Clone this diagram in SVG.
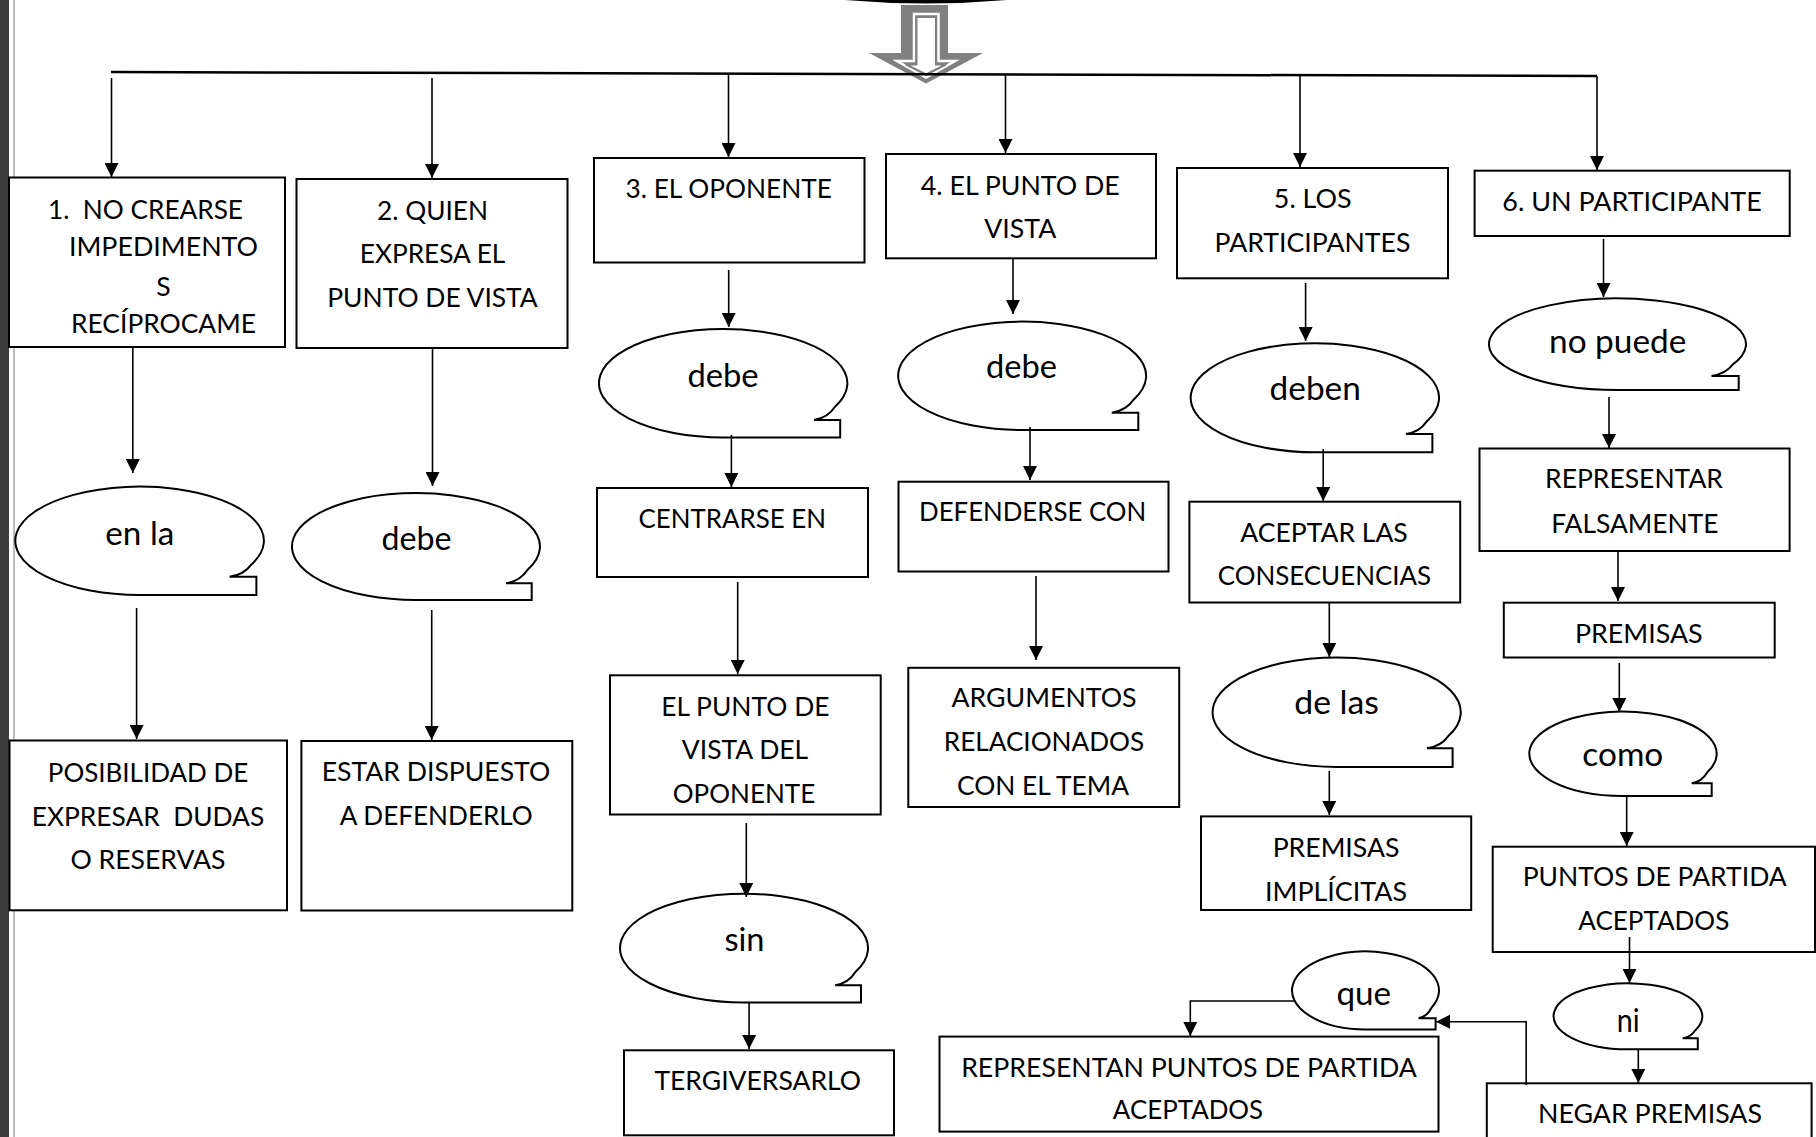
<svg xmlns="http://www.w3.org/2000/svg" width="1816" height="1137" viewBox="0 0 1816 1137">
  <defs>
    <marker id="ah" viewBox="0 0 14 14" refX="14" refY="7" markerWidth="14" markerHeight="14" orient="auto" markerUnits="userSpaceOnUse">
      <path d="M0,0 L14,7 L0,14 Z" fill="#000"/>
    </marker>
    <style>
      .box { fill: #fff; stroke: #000; stroke-width: 2; }
      .bub { fill: #fff; stroke: #000; stroke-width: 2; stroke-linejoin: miter; }
      .t { font-family: Lato, "Liberation Sans", sans-serif; font-size: 26.5px; text-anchor: middle; fill: #000; white-space: pre; }
      .w { font-size: 32.5px; }
      .c { fill: none; stroke: #000; stroke-width: 1.6; marker-end: url(#ah); }
    </style>
  </defs>

  <rect width="1816" height="1137" fill="#fff"/>

  <!-- page edge -->
  <rect x="0" y="0" width="9" height="1137" fill="#3c3c3c"/>
  <line x1="14" y1="0" x2="14" y2="1137" stroke="#a6a6a6" stroke-width="1.5"/>

  <!-- bottom of the title shape and the hollow arrow below it -->
  <path d="M845,0 Q926,7 1007,0 Z" fill="#000"/>
  <g id="title-arrow">
    <polygon points="901,5 948,5 948,53 983,53 926,83.5 869,53 901,53" fill="#808080"/>
    <polygon points="914,14 938.5,14 938.5,61 955,61 926,77.5 897,61 914,61" fill="none" stroke="#fff" stroke-width="2.5"/>
    <polygon points="916.5,17 936,17 936,64.5 946,64.5 926,74.5 906,64.5 916.5,64.5" fill="#fff" stroke="#808080" stroke-width="2"/>
  </g>

  <!-- boxes -->
  <g id="n1">
    <rect class="box" x="9" y="177.5" width="276" height="169.5"/>
    <text class="t" x="48" y="219" textLength="195" lengthAdjust="spacingAndGlyphs" style="text-anchor:start">1.  NO CREARSE</text>
    <text class="t" x="163.5" y="256" textLength="189" lengthAdjust="spacingAndGlyphs">IMPEDIMENTO</text>
    <text class="t" x="163.5" y="296">S</text>
    <text class="t" x="163.5" y="333" textLength="185" lengthAdjust="spacingAndGlyphs">RECÍPROCAME</text>
  </g>
  <g id="n2">
    <rect class="box" x="296.5" y="179" width="271" height="169"/>
    <text class="t" x="432.5" y="220" textLength="111" lengthAdjust="spacingAndGlyphs">2. QUIEN</text>
    <text class="t" x="432.5" y="263" textLength="145.5" lengthAdjust="spacingAndGlyphs">EXPRESA EL</text>
    <text class="t" x="432.5" y="307" textLength="210.5" lengthAdjust="spacingAndGlyphs">PUNTO DE VISTA</text>
  </g>
  <g id="n3">
    <rect class="box" x="594" y="158" width="270.5" height="104.5"/>
    <text class="t" x="728.7" y="198" textLength="206.4" lengthAdjust="spacingAndGlyphs">3. EL OPONENTE</text>
  </g>
  <g id="n4">
    <rect class="box" x="886" y="154" width="270" height="104.3"/>
    <text class="t" x="1020.3" y="195" textLength="199" lengthAdjust="spacingAndGlyphs">4. EL PUNTO DE</text>
    <text class="t" x="1020.3" y="238.3" textLength="72" lengthAdjust="spacingAndGlyphs">VISTA</text>
  </g>
  <g id="n5">
    <rect class="box" x="1177" y="168" width="271" height="110.3"/>
    <text class="t" x="1312.7" y="208.3" textLength="77.8" lengthAdjust="spacingAndGlyphs">5. LOS</text>
    <text class="t" x="1312.5" y="251.7" textLength="195.8" lengthAdjust="spacingAndGlyphs">PARTICIPANTES</text>
  </g>
  <g id="n6">
    <rect class="box" x="1474.6" y="170.7" width="315.1" height="65.3"/>
    <text class="t" x="1632" y="211" textLength="259.4" lengthAdjust="spacingAndGlyphs">6. UN PARTICIPANTE</text>
  </g>

  <g id="centrarse">
    <rect class="box" x="597" y="488" width="271" height="89"/>
    <text class="t" x="732.3" y="528.3" textLength="187.5" lengthAdjust="spacingAndGlyphs">CENTRARSE EN</text>
  </g>
  <g id="defenderse">
    <rect class="box" x="898.5" y="481.7" width="270" height="89.8"/>
    <text class="t" x="1032.6" y="520.7" textLength="227" lengthAdjust="spacingAndGlyphs">DEFENDERSE CON</text>
  </g>
  <g id="aceptar">
    <rect class="box" x="1189.4" y="501.7" width="270.8" height="100.8"/>
    <text class="t" x="1324" y="542.3" textLength="167.4" lengthAdjust="spacingAndGlyphs">ACEPTAR LAS</text>
    <text class="t" x="1324.4" y="585" textLength="213.4" lengthAdjust="spacingAndGlyphs">CONSECUENCIAS</text>
  </g>
  <g id="representar">
    <rect class="box" x="1479.5" y="448.5" width="310.1" height="102.5"/>
    <text class="t" x="1634" y="488.3" textLength="177.8" lengthAdjust="spacingAndGlyphs">REPRESENTAR</text>
    <text class="t" x="1634.9" y="532.7" textLength="167.4" lengthAdjust="spacingAndGlyphs">FALSAMENTE</text>
  </g>
  <g id="premisas">
    <rect class="box" x="1503.8" y="602.7" width="270.9" height="54.8"/>
    <text class="t" x="1638.8" y="642.7" textLength="127.7" lengthAdjust="spacingAndGlyphs">PREMISAS</text>
  </g>
  <g id="posibilidad">
    <rect class="box" x="9.5" y="740.5" width="277.5" height="169.8"/>
    <text class="t" x="148" y="781.5" textLength="200.4" lengthAdjust="spacingAndGlyphs">POSIBILIDAD DE</text>
    <text class="t" x="148" y="826" textLength="232.4" lengthAdjust="spacingAndGlyphs">EXPRESAR  DUDAS</text>
    <text class="t" x="148" y="868.8" textLength="155" lengthAdjust="spacingAndGlyphs">O RESERVAS</text>
  </g>
  <g id="estar">
    <rect class="box" x="301.4" y="741" width="270.9" height="169.5"/>
    <text class="t" x="436" y="780.8" textLength="228.5" lengthAdjust="spacingAndGlyphs">ESTAR DISPUESTO</text>
    <text class="t" x="436.3" y="825.3" textLength="192.9" lengthAdjust="spacingAndGlyphs">A DEFENDERLO</text>
  </g>
  <g id="punto-oponente">
    <rect class="box" x="610" y="675.3" width="270.7" height="139.2"/>
    <text class="t" x="745.4" y="715.8" textLength="168.2" lengthAdjust="spacingAndGlyphs">EL PUNTO DE</text>
    <text class="t" x="745" y="759.2" textLength="126.3" lengthAdjust="spacingAndGlyphs">VISTA DEL</text>
    <text class="t" x="744" y="802.7" textLength="142.4" lengthAdjust="spacingAndGlyphs">OPONENTE</text>
  </g>
  <g id="argumentos">
    <rect class="box" x="908.3" y="667.8" width="270.9" height="139.2"/>
    <text class="t" x="1044" y="706.8" textLength="185.2" lengthAdjust="spacingAndGlyphs">ARGUMENTOS</text>
    <text class="t" x="1044" y="750.7" textLength="200.4" lengthAdjust="spacingAndGlyphs">RELACIONADOS</text>
    <text class="t" x="1043" y="794.5" textLength="172" lengthAdjust="spacingAndGlyphs">CON EL TEMA</text>
  </g>
  <g id="premisas-implicitas">
    <rect class="box" x="1201" y="816.4" width="270.2" height="93.6"/>
    <text class="t" x="1336" y="856.8" textLength="126.7" lengthAdjust="spacingAndGlyphs">PREMISAS</text>
    <text class="t" x="1336" y="900.7" textLength="142" lengthAdjust="spacingAndGlyphs">IMPLÍCITAS</text>
  </g>
  <g id="puntos-partida">
    <rect class="box" x="1492.7" y="846.7" width="322.3" height="105.3"/>
    <text class="t" x="1654.7" y="886" textLength="264" lengthAdjust="spacingAndGlyphs">PUNTOS DE PARTIDA</text>
    <text class="t" x="1653.8" y="930" textLength="151" lengthAdjust="spacingAndGlyphs">ACEPTADOS</text>
  </g>
  <g id="tergiversarlo">
    <rect class="box" x="624" y="1050.3" width="270" height="85"/>
    <text class="t" x="757.7" y="1089.7" textLength="206.6" lengthAdjust="spacingAndGlyphs">TERGIVERSARLO</text>
  </g>
  <g id="representan">
    <rect class="box" x="939.5" y="1036.6" width="499" height="95"/>
    <text class="t" x="1189" y="1076.5" textLength="455.7" lengthAdjust="spacingAndGlyphs">REPRESENTAN PUNTOS DE PARTIDA</text>
    <text class="t" x="1188" y="1118.8" textLength="150.3" lengthAdjust="spacingAndGlyphs">ACEPTADOS</text>
  </g>
  <g id="negar">
    <rect class="box" x="1486.8" y="1083.3" width="324.8" height="60"/>
    <text class="t" x="1650" y="1123.3" textLength="224" lengthAdjust="spacingAndGlyphs">NEGAR PREMISAS</text>
  </g>

  <!-- speech bubbles -->
  <g id="b-en-la">
    <path class="bub" d="M139.6,595 A124.3,54.2 0 1 1 251.5,564.4 Q243.8,574.9 229.6,576.7 L256.4,576.7 L256.4,595 Z"/>
    <text class="t w" x="139.8" y="545" textLength="69" lengthAdjust="spacingAndGlyphs">en la</text>
  </g>
  <g id="b-debe-2">
    <path class="bub" d="M416,600 A124,53.5 0 1 1 527.6,569.8 Q520,581.3 506,583.3 L531.7,583.3 L531.7,600 Z"/>
    <text class="t w" x="416.5" y="550" textLength="70" lengthAdjust="spacingAndGlyphs">debe</text>
  </g>
  <g id="b-debe-3">
    <path class="bub" d="M723.2,437.4 A124.2,54.2 0 1 1 835,406.8 Q827.7,418 814,420 L840.2,420 L840.2,437.4 Z"/>
    <text class="t w" x="723" y="386.7" textLength="71.2" lengthAdjust="spacingAndGlyphs">debe</text>
  </g>
  <g id="b-debe-4">
    <path class="bub" d="M1022.2,430 A124,54.2 0 1 1 1133.8,399.4 Q1126.1,410.7 1111.8,412.7 L1138.3,412.7 L1138.3,430 Z"/>
    <text class="t w" x="1021.6" y="378.3" textLength="71" lengthAdjust="spacingAndGlyphs">debe</text>
  </g>
  <g id="b-deben">
    <path class="bub" d="M1314.8,452.3 A124.2,54.5 0 1 1 1426.6,421.6 Q1419.4,432.1 1406,434 L1432.4,434 L1432.4,452.3 Z"/>
    <text class="t w" x="1315.2" y="400" textLength="91.2" lengthAdjust="spacingAndGlyphs">deben</text>
  </g>
  <g id="b-no-puede">
    <path class="bub" d="M1617.4,390 A128.5,45.8 0 1 1 1733.1,364.2 Q1725.5,374.2 1711.5,376 L1738.7,376 L1738.7,390 Z"/>
    <text class="t w" x="1617.7" y="353.3" textLength="137.4" lengthAdjust="spacingAndGlyphs">no puede</text>
  </g>
  <g id="b-de-las">
    <path class="bub" d="M1336.6,766.9 A124.1,54.7 0 1 1 1448.3,736.1 Q1440.8,746.5 1426.9,748.3 L1452.6,748.3 L1452.6,766.9 Z"/>
    <text class="t w" x="1336.6" y="714" textLength="84.7" lengthAdjust="spacingAndGlyphs">de las</text>
  </g>
  <g id="b-sin">
    <path class="bub" d="M744,1002.4 A124,54.3 0 1 1 855.6,971.8 Q848.5,983.3 835.2,985.3 L861,985.3 L861,1002.4 Z"/>
    <text class="t w" x="744.5" y="951" textLength="40.1" lengthAdjust="spacingAndGlyphs">sin</text>
  </g>
  <g id="b-como">
    <path class="bub" d="M1623,796 A93.7,42.2 0 1 1 1707.3,772.2 Q1701.8,781.6 1691.7,783.3 L1711.7,783.3 L1711.7,796 Z"/>
    <text class="t w" x="1622.8" y="765.7" textLength="81" lengthAdjust="spacingAndGlyphs">como</text>
  </g>
  <g id="b-ni">
    <path class="bub" d="M1627.9,1049.3 A74.4,33 0 1 1 1694.9,1030.7 Q1690.6,1037.2 1682.7,1038.3 L1697.8,1038.3 L1697.8,1049.3 Z"/>
    <text class="t w" x="1628.3" y="1031.7" textLength="22.9" lengthAdjust="spacingAndGlyphs">ni</text>
  </g>
  <g id="b-que">
    <path class="bub" d="M1365.5,1029.5 A73.5,39 0 1 1 1431.65,1007.5 Q1427.05,1016.7 1418.5,1018.3 L1435.6,1018.3 L1435.6,1029.5 Z"/>
    <text class="t w" x="1363.8" y="1005" textLength="54.7" lengthAdjust="spacingAndGlyphs">que</text>
  </g>

  <!-- connectors -->
  <g id="connectors">
    <line x1="111" y1="72" x2="1597" y2="76" stroke="#000" stroke-width="2.5"/>
    <line class="c" x1="111.5" y1="78" x2="111.5" y2="177"/>
    <line class="c" x1="432" y1="78" x2="432" y2="178"/>
    <line class="c" x1="728.5" y1="74" x2="728.5" y2="157"/>
    <line class="c" x1="1005.5" y1="75" x2="1005.5" y2="153"/>
    <line class="c" x1="1300" y1="75" x2="1300" y2="167"/>
    <line class="c" x1="1597" y1="76" x2="1597" y2="170"/>

    <line class="c" x1="132.8" y1="347" x2="132.8" y2="473"/>
    <line class="c" x1="136.6" y1="608" x2="136.6" y2="739"/>

    <line class="c" x1="432.5" y1="347" x2="432.5" y2="486"/>
    <line class="c" x1="431.7" y1="610" x2="431.7" y2="740"/>

    <line class="c" x1="728.7" y1="270" x2="728.7" y2="327"/>
    <line class="c" x1="731.4" y1="435" x2="731.4" y2="487"/>
    <line class="c" x1="737.7" y1="582" x2="737.7" y2="674"/>
    <line class="c" x1="746.3" y1="823" x2="746.3" y2="897"/>
    <line class="c" x1="749.1" y1="1002" x2="749.1" y2="1049"/>

    <line class="c" x1="1013" y1="258" x2="1013" y2="314"/>
    <line class="c" x1="1030" y1="427" x2="1030" y2="480"/>
    <line class="c" x1="1036" y1="576" x2="1036" y2="660"/>

    <line class="c" x1="1305.6" y1="283" x2="1305.6" y2="341"/>
    <line class="c" x1="1323.2" y1="449" x2="1323.2" y2="501"/>
    <line class="c" x1="1329.3" y1="603" x2="1329.3" y2="657"/>
    <line class="c" x1="1329.3" y1="771" x2="1329.3" y2="815"/>

    <line class="c" x1="1603.5" y1="239" x2="1603.5" y2="297"/>
    <line class="c" x1="1609" y1="397" x2="1609" y2="448"/>
    <line class="c" x1="1618" y1="551" x2="1618" y2="601"/>
    <line class="c" x1="1619.3" y1="663" x2="1619.3" y2="712"/>
    <line class="c" x1="1626.7" y1="797" x2="1626.7" y2="846"/>
    <line class="c" x1="1629.5" y1="937" x2="1629.5" y2="983"/>
    <line class="c" x1="1638.3" y1="1049" x2="1638.3" y2="1083"/>

    <polyline class="c" points="1526.2,1085 1526.2,1021.7 1436,1021.7"/>
    <polyline class="c" points="1294,1001 1190.3,1001 1190.3,1036"/>
  </g>
</svg>
